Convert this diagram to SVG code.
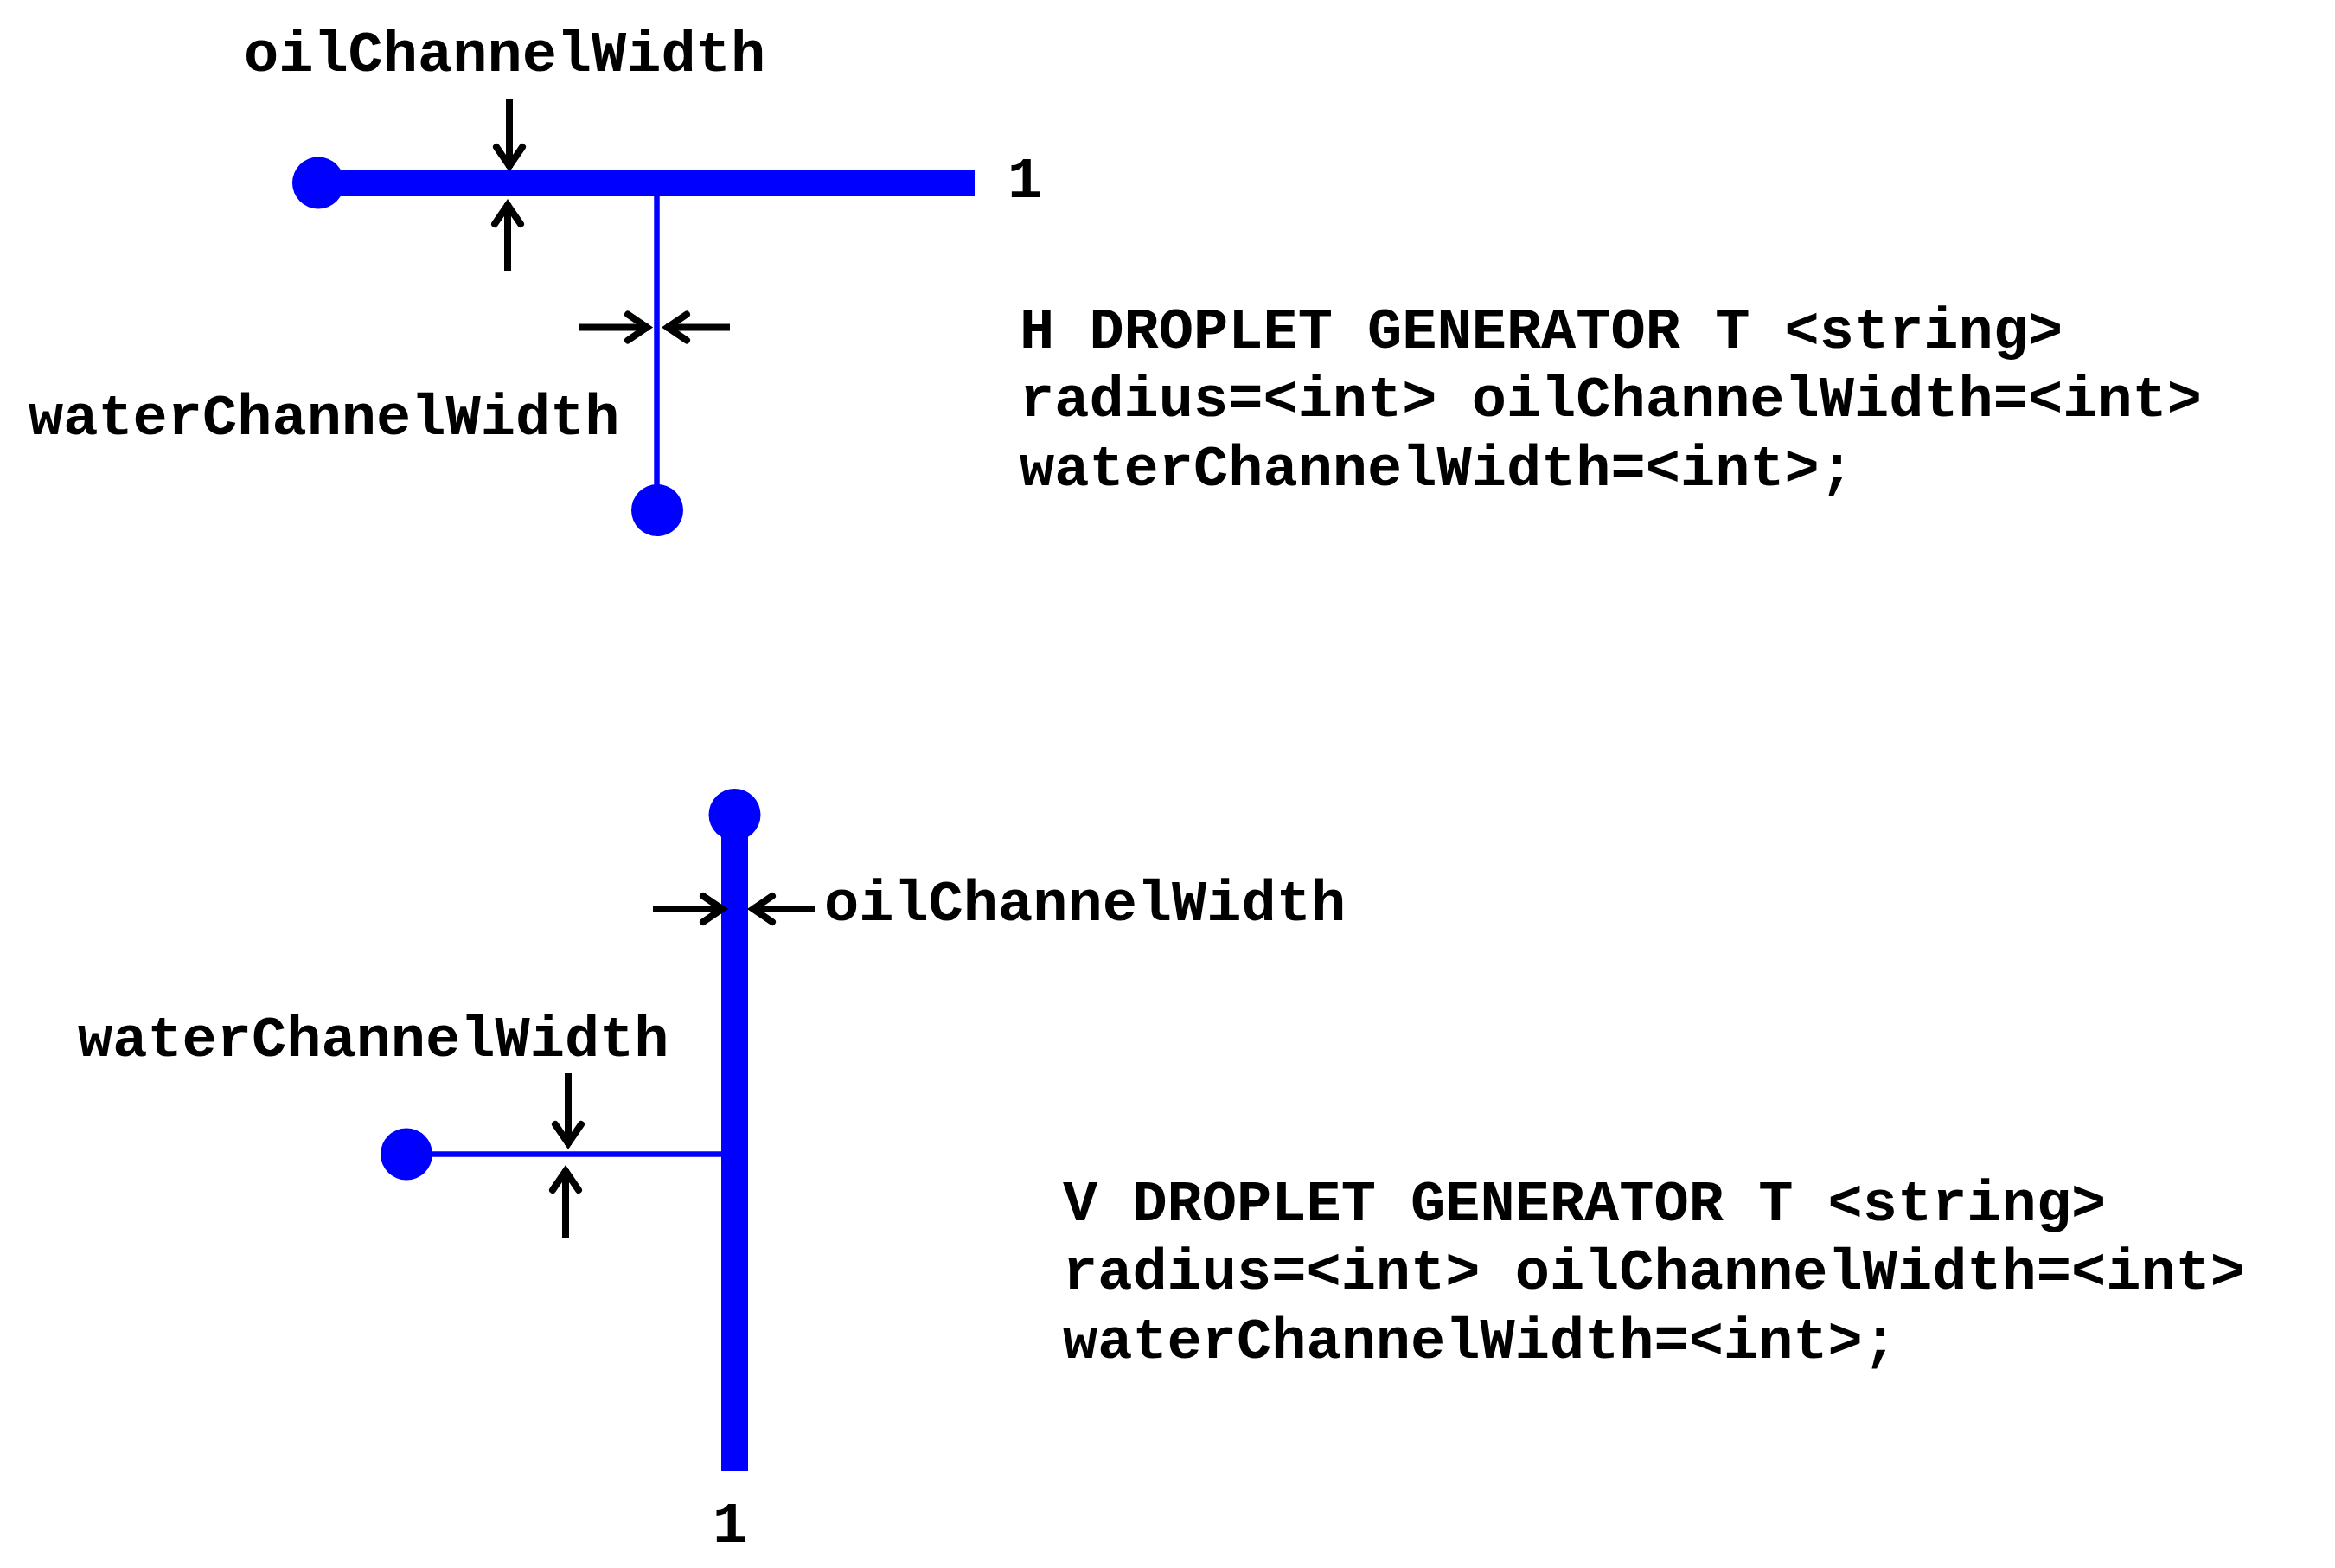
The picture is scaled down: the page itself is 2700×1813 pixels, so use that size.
<svg xmlns="http://www.w3.org/2000/svg" xmlns:xlink="http://www.w3.org/1999/xlink" width="2700" height="1813" viewBox="0 0 2700 1813">
<style>
.oil{stroke:#0000FF;stroke-width:31;fill:none;stroke-linecap:butt}
.water{stroke:#0000FF;stroke-width:6.5;fill:none;stroke-linecap:butt}
.dot{fill:#0000FF}
.shaft{stroke:#000;stroke-width:8;fill:none;stroke-linecap:butt}
.head{stroke:#000;stroke-width:8;fill:none;stroke-linecap:round;stroke-linejoin:miter}
text{font-family:"Liberation Mono","Courier New",monospace;font-weight:bold;font-size:67px;fill:#000}
</style>
<defs>
<path id="ah" class="head" d="M-30,-15 L-8,0 L-30,15"/>
</defs>
<rect width="2700" height="1813" fill="#fff"/>

<g id="h-generator">
<line class="oil" x1="368" y1="211.5" x2="1127" y2="211.5"/>
<line class="water" x1="759.5" y1="211" x2="759.5" y2="590"/>
<circle class="dot" cx="368" cy="211.5" r="30"/>
<circle class="dot" cx="760" cy="590" r="30"/>
<text x="1165" y="228">1</text>
</g>

<g id="h-labels">
<text x="282" y="82">oilChannelWidth</text>
<text x="33" y="502">waterChannelWidth</text>
</g>

<g id="h-description">
<text x="1179" y="402">H DROPLET GENERATOR T &lt;string&gt;</text>
<text x="1179" y="481">radius=&lt;int&gt; oilChannelWidth=&lt;int&gt;</text>
<text x="1179" y="561">waterChannelWidth=&lt;int&gt;;</text>
</g>

<g id="v-generator">
<line class="oil" x1="849.5" y1="942" x2="849.5" y2="1701"/>
<line class="water" x1="470" y1="1334.5" x2="850" y2="1334.5"/>
<circle class="dot" cx="849.5" cy="942" r="30"/>
<circle class="dot" cx="470" cy="1334.5" r="30"/>
<text x="824" y="1783">1</text>
</g>

<g id="v-labels">
<text x="953" y="1064">oilChannelWidth</text>
<text x="90" y="1221">waterChannelWidth</text>
</g>

<g id="v-description">
<text x="1229" y="1411">V DROPLET GENERATOR T &lt;string&gt;</text>
<text x="1229" y="1490">radius=&lt;int&gt; oilChannelWidth=&lt;int&gt;</text>
<text x="1229" y="1570">waterChannelWidth=&lt;int&gt;;</text>
</g>

<g id="connectors">
<!-- top: oil width arrows -->
<line class="shaft" x1="589" y1="114" x2="589" y2="194"/>
<use xlink:href="#ah" transform="translate(589,200) rotate(90)"/>
<line class="shaft" x1="587" y1="313" x2="587" y2="235"/>
<use xlink:href="#ah" transform="translate(587,229) rotate(-90)"/>
<!-- top: water width arrows -->
<line class="shaft" x1="670" y1="378.5" x2="750" y2="378.5"/>
<use xlink:href="#ah" transform="translate(756,378.5)"/>
<line class="shaft" x1="844" y1="378.5" x2="770" y2="378.5"/>
<use xlink:href="#ah" transform="translate(764,378.5) rotate(180)"/>
<!-- bottom: oil width arrows -->
<line class="shaft" x1="755" y1="1051" x2="837" y2="1051"/>
<use xlink:href="#ah" transform="translate(843,1051)"/>
<line class="shaft" x1="942" y1="1051" x2="869" y2="1051"/>
<use xlink:href="#ah" transform="translate(863,1051) rotate(180)"/>
<!-- bottom: water width arrows -->
<line class="shaft" x1="657" y1="1241" x2="657" y2="1324"/>
<use xlink:href="#ah" transform="translate(657,1330) rotate(90)"/>
<line class="shaft" x1="654" y1="1431" x2="654" y2="1352"/>
<use xlink:href="#ah" transform="translate(654,1346) rotate(-90)"/>
</g>
</svg>
